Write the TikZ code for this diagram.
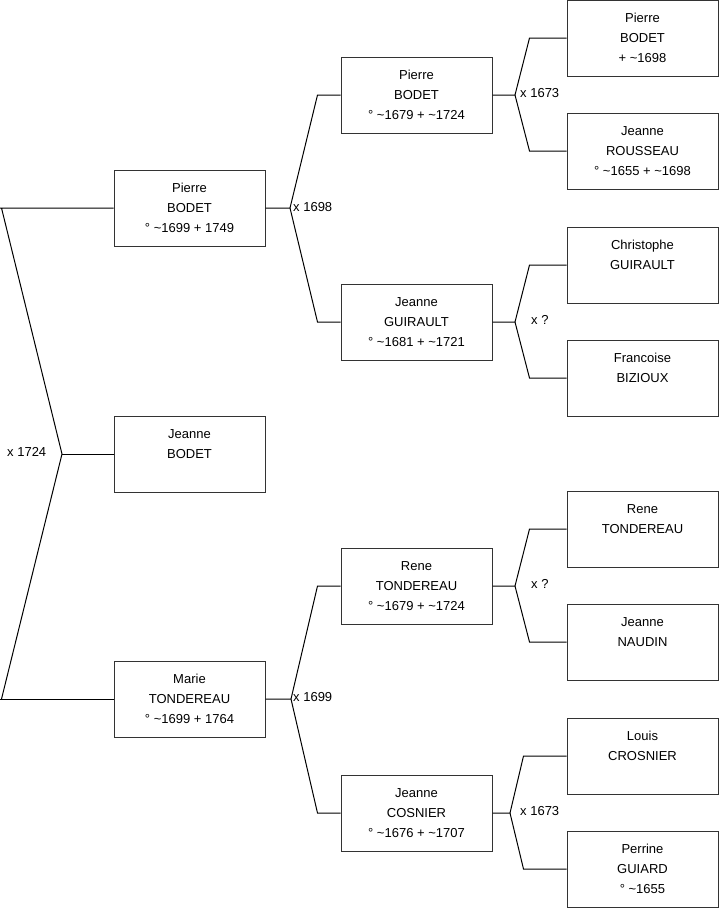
\documentclass[tikz,border=0pt]{standalone}
\usepackage{fontspec}
\setmainfont{Liberation Sans}
\newcommand{\tld}{\textasciitilde}
\tikzset{
  person/.style={draw=black!80, line width=1pt, minimum width=151pt, minimum height=76pt,
    inner sep=0pt, align=center, font=\fontsize{13}{20}\selectfont},
  lbl/.style={anchor=west, inner sep=0pt, font=\fontsize{13}{16}\selectfont},
  link/.style={draw=black, line width=1pt, line join=miter}
}
\begin{document}
\begin{tikzpicture}[x=1pt,y=-1pt]
\useasboundingbox (0,0) rectangle (719,908);
% generation 0
\node[person] (g1) at (189.5,208) {\strut Pierre\\\strut BODET\\\strut ° \tld1699 + 1749};
\node[person] (g2) at (189.5,454) {\strut Jeanne\\\strut BODET\\\strut};
\node[person] (g3) at (189.5,699) {\strut Marie\\\strut TONDEREAU\\\strut ° \tld1699 + 1764};
% generation 1
\node[person] (p1) at (416.5,95) {\strut Pierre\\\strut BODET\\\strut ° \tld1679 + \tld1724};
\node[person] (p2) at (416.5,322) {\strut Jeanne\\\strut GUIRAULT\\\strut ° \tld1681 + \tld1721};
\node[person] (p3) at (416.5,586) {\strut Rene\\\strut TONDEREAU\\\strut ° \tld1679 + \tld1724};
\node[person] (p4) at (416.5,813) {\strut Jeanne\\\strut COSNIER\\\strut ° \tld1676 + \tld1707};
% generation 2
\node[person] (a1) at (642.5,38) {\strut Pierre\\\strut BODET\\\strut + \tld1698};
\node[person] (a2) at (642.5,151) {\strut Jeanne\\\strut ROUSSEAU\\\strut ° \tld1655 + \tld1698};
\node[person] (a3) at (642.5,265) {\strut Christophe\\\strut GUIRAULT\\\strut};
\node[person] (a4) at (642.5,378) {\strut Francoise\\\strut BIZIOUX\\\strut};
\node[person] (a5) at (642.5,529) {\strut Rene\\\strut TONDEREAU\\\strut};
\node[person] (a6) at (642.5,642) {\strut Jeanne\\\strut NAUDIN\\\strut};
\node[person] (a7) at (642.5,756) {\strut Louis\\\strut CROSNIER\\\strut};
\node[person] (a8) at (642.5,869) {\strut Perrine\\\strut GUIARD\\\strut ° \tld1655};
% fork points
\coordinate (f0) at (62,454);
\coordinate (f1) at (290,208);
\coordinate (f2) at (291,699);
\coordinate (f3) at (515,95);
\coordinate (f4) at (515,322);
\coordinate (f5) at (515,586);
\coordinate (f6) at (510,813);
% connectors
\draw[link] (g1.west) -- ([xshift=-114pt]g1.west) ([xshift=-112pt]g1.west) -- (f0) -- ([xshift=-112pt]g3.west);
\draw[link] ([xshift=-114pt]g3.west) -- (g3.west);
\draw[link] (f0) -- (g2.west);
\draw[link] (g1.east) -- (f1) -- ([xshift=-23pt]p1.west) -- (p1.west);
\draw[link] (f1) -- ([xshift=-23pt]p2.west) -- (p2.west);
\draw[link] (g3.east) -- (f2) -- ([xshift=-23pt]p3.west) -- (p3.west);
\draw[link] (f2) -- ([xshift=-23pt]p4.west) -- (p4.west);
\draw[link] (p1.east) -- (f3) -- ([xshift=-37pt]a1.west) -- (a1.west);
\draw[link] (f3) -- ([xshift=-37pt]a2.west) -- (a2.west);
\draw[link] (p2.east) -- (f4) -- ([xshift=-37pt]a3.west) -- (a3.west);
\draw[link] (f4) -- ([xshift=-37pt]a4.west) -- (a4.west);
\draw[link] (p3.east) -- (f5) -- ([xshift=-37pt]a5.west) -- (a5.west);
\draw[link] (f5) -- ([xshift=-37pt]a6.west) -- (a6.west);
\draw[link] (p4.east) -- (f6) -- ([xshift=-43pt]a7.west) -- (a7.west);
\draw[link] (f6) -- ([xshift=-43pt]a8.west) -- (a8.west);
% marriage labels
\node[lbl] (m0) at (7,452) {x 1724};
\node[lbl] (m1) at (293,207) {x 1698};
\node[lbl] (m2) at (293,697) {x 1699};
\node[lbl] (m3) at (520,93) {x 1673};
\node[lbl] (m4) at (531,320) {x ?};
\node[lbl] (m5) at (531,584) {x ?};
\node[lbl] (m6) at (520,811) {x 1673};
\end{tikzpicture}
\end{document}
